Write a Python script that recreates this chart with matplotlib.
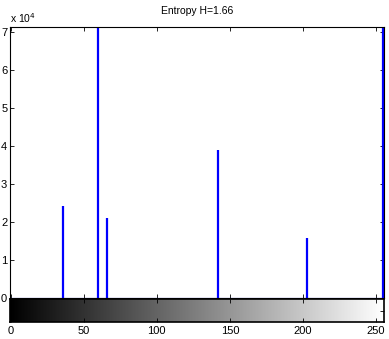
import numpy as np
import matplotlib
matplotlib.use("Agg")
import matplotlib.pyplot as plt

plt.rcParams['font.family'] = ['Liberation Sans', 'DejaVu Sans']

# Non-zero histogram bins (gray level -> count)
levels = [36, 60, 66, 142, 203, 255]
counts = [24100, 72000, 20900, 38800, 15700, 72000]
ymax = 71200
title = "Entropy H=1.66"
xticks = [0, 50, 100, 150, 200, 250]
yticks = [0, 10000, 20000, 30000, 40000, 50000, 60000, 70000]
ytick_labels = ["0", "1", "2", "3", "4", "5", "6", "7"]

fig = plt.figure(figsize=(3.89, 3.39), dpi=100)
ax = fig.add_axes([10/389, 1-298/339, 374/389, 271/339])
ax.vlines(levels, 0, counts, colors=(0, 0, 1), lw=1.6)
ax.axhline(0, color=(0, 0, 1), lw=0.8)
ax.set_xlim(-0.5, 255.5)
ax.set_ylim(0, ymax)
ax.set_xticks(xticks)
ax.set_xticklabels([])
ax.set_yticks(yticks)
ax.set_yticklabels(ytick_labels, fontsize=8)
ax.tick_params(direction='in', top=True, right=True, length=3, width=0.6, pad=2)
for s in ax.spines.values():
    s.set_linewidth(0.8)
ax.set_title(title, fontsize=7.5, pad=9)
fig.text(10/389, 1-18/339, r"x 10$^4$", fontsize=7.5, va='center', ha='left')

cax = fig.add_axes([10/389, 1-322/339, 374/389, 23/339])
grad = np.linspace(0, 1, 256).reshape(1, -1)
cax.imshow(grad, aspect='auto', cmap='gray', extent=[-0.5, 255.5, 0, 1])
cax.set_xlim(-0.5, 255.5)
cax.set_ylim(0, 1)
cax.set_xticks(xticks)
cax.set_xticklabels([str(t) for t in xticks], fontsize=8)
cax.set_yticks([0.5])
cax.set_yticklabels([])
cax.tick_params(direction='in', top=True, right=True, left=False, length=3, width=0.6, pad=3)
for s in cax.spines.values():
    s.set_linewidth(1.2)

fig.savefig("out.png", dpi=100)
